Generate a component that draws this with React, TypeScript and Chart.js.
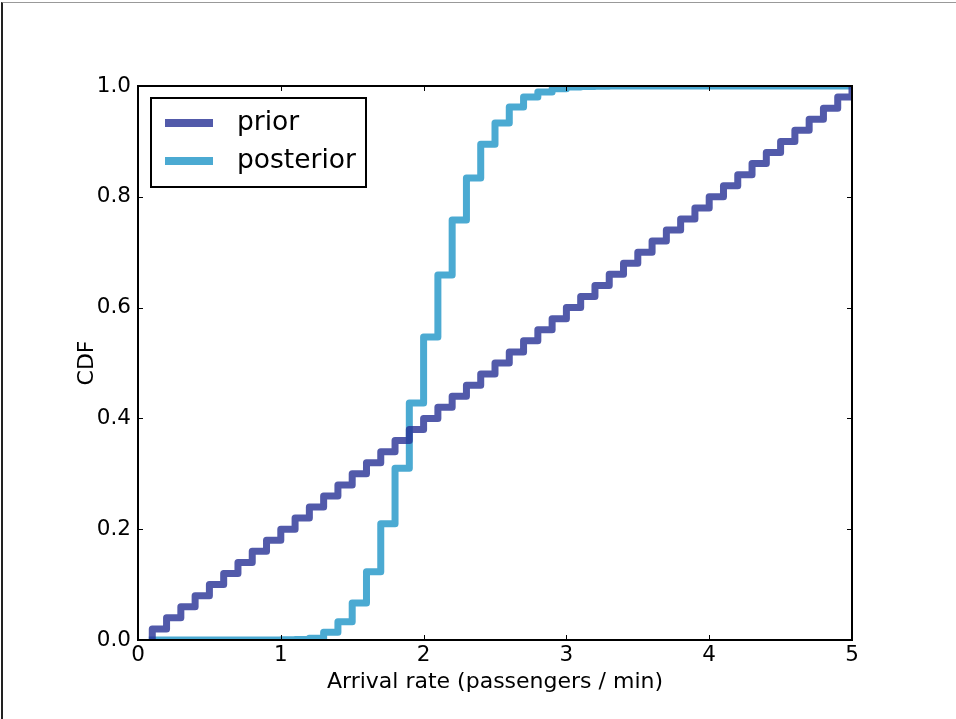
import React, { useEffect, useRef } from "react";
import { Chart, registerables } from "chart.js";

Chart.register(...registerables);

const xs = [
  0.1, 0.2, 0.3, 0.4, 0.5, 0.6, 0.7, 0.8, 0.9, 1.0,
  1.1, 1.2, 1.3, 1.4, 1.5, 1.6, 1.7, 1.8, 1.9, 2.0,
  2.1, 2.2, 2.3, 2.4, 2.5, 2.6, 2.7, 2.8, 2.9, 3.0,
  3.1, 3.2, 3.3, 3.4, 3.5, 3.6, 3.7, 3.8, 3.9, 4.0,
  4.1, 4.2, 4.3, 4.4, 4.5, 4.6, 4.7, 4.8, 4.9, 5.0,
];

const priorCdf = [
  0.02, 0.04, 0.06, 0.08, 0.1, 0.12, 0.14, 0.16, 0.18, 0.2,
  0.22, 0.24, 0.26, 0.28, 0.3, 0.32, 0.34, 0.36, 0.38, 0.4,
  0.42, 0.44, 0.46, 0.48, 0.5, 0.52, 0.54, 0.56, 0.58, 0.6,
  0.62, 0.64, 0.66, 0.68, 0.7, 0.72, 0.74, 0.76, 0.78, 0.8,
  0.82, 0.84, 0.86, 0.88, 0.9, 0.92, 0.94, 0.96, 0.98, 1.0,
];

const posteriorCdf = [
  0, 0, 0, 0, 0, 0, 0, 0, 0, 0.0005,
  0.001, 0.003, 0.014, 0.033, 0.067, 0.123, 0.21, 0.31, 0.428, 0.547,
  0.659, 0.758, 0.834, 0.895, 0.933, 0.962, 0.98, 0.989, 0.995, 0.998,
  0.999, 0.9995, 0.9998, 1, 1, 1, 1, 1, 1, 1,
  1, 1, 1, 1, 1, 1, 1, 1, 1, 1,
];

const seriesLabels = ["prior", "posterior"];
const xTicks = [0, 1, 2, 3, 4, 5];
const yTicks = [0, 0.2, 0.4, 0.6, 0.8, 1.0];
const xTitle = "Arrival rate (passengers / min)";
const yTitle = "CDF";

const FONT = "'DejaVu Sans', sans-serif";
const PRIOR_COLOR = "rgba(39, 49, 149, 0.8)";
const POST_COLOR = "rgba(30, 149, 199, 0.8)";
const PRIOR_SOLID = "#525aaa";
const POST_SOLID = "#4baad2";

function toPoints(vals: number[]) {
  const pts = [{ x: xs[0], y: 0 }];
  xs.forEach((x, i) => pts.push({ x, y: vals[i] }));
  return pts;
}

const framePlugin = {
  id: "frameAndTicks",
  afterDatasetsDraw(chart: any) {
    const { ctx, chartArea: a, scales } = chart;
    const xs_ = scales.x;
    const ys_ = scales.y;
    ctx.save();
    ctx.strokeStyle = "#000";
    ctx.lineWidth = 1;
    const tl = 5;
    ctx.beginPath();
    xTicks.forEach((v) => {
      const px = Math.round(xs_.getPixelForValue(v)) + 0.5;
      ctx.moveTo(px, a.bottom);
      ctx.lineTo(px, a.bottom - tl);
      ctx.moveTo(px, a.top);
      ctx.lineTo(px, a.top + tl);
    });
    yTicks.forEach((v) => {
      const py = Math.round(ys_.getPixelForValue(v)) + 0.5;
      ctx.moveTo(a.left, py);
      ctx.lineTo(a.left + tl, py);
      ctx.moveTo(a.right, py);
      ctx.lineTo(a.right - tl, py);
    });
    ctx.stroke();
    ctx.lineWidth = 2;
    ctx.strokeRect(a.left, a.top, a.right - a.left, a.bottom - a.top);

    // legend
    const lx = a.left + 13;
    const ly = a.top + 12;
    const lw = 215;
    const lh = 89;
    ctx.fillStyle = "#fff";
    ctx.fillRect(lx, ly, lw, lh);
    ctx.lineWidth = 2;
    ctx.strokeStyle = "#000";
    ctx.strokeRect(lx, ly, lw, lh);
    const colors = [PRIOR_SOLID, POST_SOLID];
    chart.data.datasets.forEach((ds: any, i: number) => {
      const cy = ly + 25 + i * 38;
      ctx.strokeStyle = colors[i];
      ctx.lineWidth = 8;
      ctx.lineCap = "butt";
      ctx.beginPath();
      ctx.moveTo(lx + 14, cy);
      ctx.lineTo(lx + 62, cy);
      ctx.stroke();
      ctx.fillStyle = "#000";
      ctx.font = `26.5px ${FONT}`;
      ctx.textBaseline = "middle";
      ctx.textAlign = "left";
      ctx.fillText(ds.label, lx + 86, cy);
    });
    ctx.restore();
  },
};

export default function App() {
  const ref = useRef<HTMLCanvasElement | null>(null);
  useEffect(() => {
    if (!ref.current) return;
    const chart = new Chart(ref.current, {
      type: "line",
      data: {
        datasets: [
          {
            label: seriesLabels[0],
            data: toPoints(priorCdf),
            borderColor: PRIOR_COLOR,
            borderWidth: 7,
            stepped: "before",
            pointRadius: 0,
            fill: false,
            clip: 0,
            borderJoinStyle: "round",
            borderCapStyle: "square",
          },
          {
            label: seriesLabels[1],
            data: toPoints(posteriorCdf),
            borderColor: POST_COLOR,
            borderWidth: 7,
            stepped: "before",
            pointRadius: 0,
            fill: false,
            clip: 0,
            borderJoinStyle: "round",
            borderCapStyle: "square",
          },
        ],
      },
      options: {
        animation: false,
        responsive: false,
        maintainAspectRatio: false,
        layout: { padding: { left: 0, right: 104, top: 86, bottom: 0 } },
        plugins: { legend: { display: false }, tooltip: { enabled: false } },
        scales: {
          x: {
            type: "linear",
            min: 0,
            max: 5,
            afterFit: (s: any) => {
              s.height = 79;
            },
            afterBuildTicks: (s: any) => {
              s.ticks = xTicks.map((v) => ({ value: v }));
            },
            grid: { display: false, drawTicks: false },
            border: { display: false },
            ticks: {
              color: "#000",
              font: { family: FONT, size: 21.5 },
              padding: 3,
              callback: (v: any) => String(v),
            },
            title: {
              display: true,
              text: xTitle,
              color: "#000",
              font: { family: FONT, size: 22 },
              padding: { top: 0, bottom: 24 },
            },
          },
          y: {
            type: "linear",
            min: 0,
            max: 1,
            afterFit: (s: any) => {
              s.width = 138;
            },
            afterBuildTicks: (s: any) => {
              s.ticks = yTicks.map((v) => ({ value: v }));
            },
            grid: { display: false, drawTicks: false },
            border: { display: false },
            ticks: {
              color: "#000",
              font: { family: FONT, size: 21.5 },
              padding: 7,
              callback: (v: any) => Number(v).toFixed(1),
            },
            title: {
              display: true,
              text: yTitle,
              color: "#000",
              font: { family: FONT, size: 22 },
              padding: { top: 74, bottom: 0 },
            },
          },
        },
      },
      plugins: [framePlugin],
    });
    return () => chart.destroy();
  }, []);
  return (
    <div
      style={{
        position: "fixed",
        left: 0,
        top: 0,
        width: 956,
        height: 719,
        background: "#fff",
      }}
    >
      <canvas ref={ref} width={956} height={719} style={{ display: "block" }} />
      <div
        style={{
          position: "absolute",
          left: 1,
          top: 2,
          width: 955,
          height: 717,
          borderLeft: "2px solid #222",
          borderTop: "1px solid #999",
          pointerEvents: "none",
        }}
      />
    </div>
  );
}
